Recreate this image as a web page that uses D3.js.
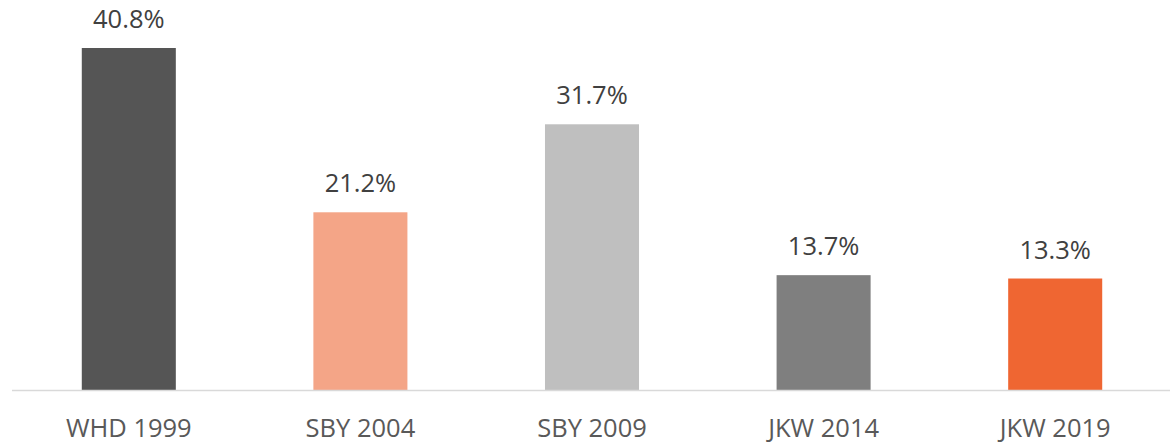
<!DOCTYPE html>
<html>
<head>
<meta charset="utf-8">
<script src="https://cdn.jsdelivr.net/npm/d3@7"></script>
<style>
body { margin: 0; background: #fff; }
svg text { font-family: "Open Sans", sans-serif; }
</style>
</head>
<body>
<svg></svg>
<script>
// categories + values
const categories = ["WHD 1999", "SBY 2004", "SBY 2009", "JKW 2014", "JKW 2019"]
const values = [40.8, 21.2, 31.7, 13.7, 13.3]
const labels = ["40.8%", "21.2%", "31.7%", "13.7%", "13.3%"]
const colors = ["#555555", "#f4a587", "#bfbfbf", "#7f7f7f", "#ef6632"]

const width = 1176, height = 442
const baseY = 390

const svg = d3.select("svg")
	.attr("width", width)
	.attr("height", height)

const scaleX = d3.scaleBand()
	.domain(categories)
	.range([13, 1171])
	.paddingInner(0.594)
	.paddingOuter(0.297)

const scaleY = d3.scaleLinear()
	.domain([0, 40.8])
	.range([baseY, 48])

const rows = categories.map((c, i) => ({ cat: c, v: values[i], label: labels[i], color: colors[i] }))

svg.selectAll("rect.bar")
	.data(rows)
	.enter()
	.append("rect")
	.attr("class", "bar")
	.attr("x", d => scaleX(d.cat))
	.attr("y", d => scaleY(d.v))
	.attr("width", scaleX.bandwidth())
	.attr("height", d => baseY - scaleY(d.v))
	.attr("fill", d => d.color)

// baseline
svg.append("line")
	.attr("x1", 12)
	.attr("x2", 1170)
	.attr("y1", baseY + 0.5)
	.attr("y2", baseY + 0.5)
	.attr("stroke", "#d9d9d9")
	.attr("stroke-width", 1.5)

// value labels
svg.selectAll("text.val")
	.data(rows)
	.enter()
	.append("text")
	.attr("class", "val")
	.attr("x", d => scaleX(d.cat) + scaleX.bandwidth() / 2)
	.attr("y", d => scaleY(d.v) - 20)
	.attr("text-anchor", "middle")
	.attr("font-size", 25.5)
	.attr("fill", "#404040")
	.text(d => d.label)

// category labels
const xAxis = d3.axisBottom(scaleX).tickSize(0).tickPadding(0)
const gx = svg.append("g")
	.attr("transform", `translate(0,${baseY})`)
	.call(xAxis)
gx.select(".domain").remove()
gx.selectAll("text")
	.attr("dy", null)
	.attr("y", 47)
	.attr("font-size", 25.5)
	.attr("font-family", "Open Sans, sans-serif")
	.attr("fill", "#595959")
</script>
</body>
</html>
